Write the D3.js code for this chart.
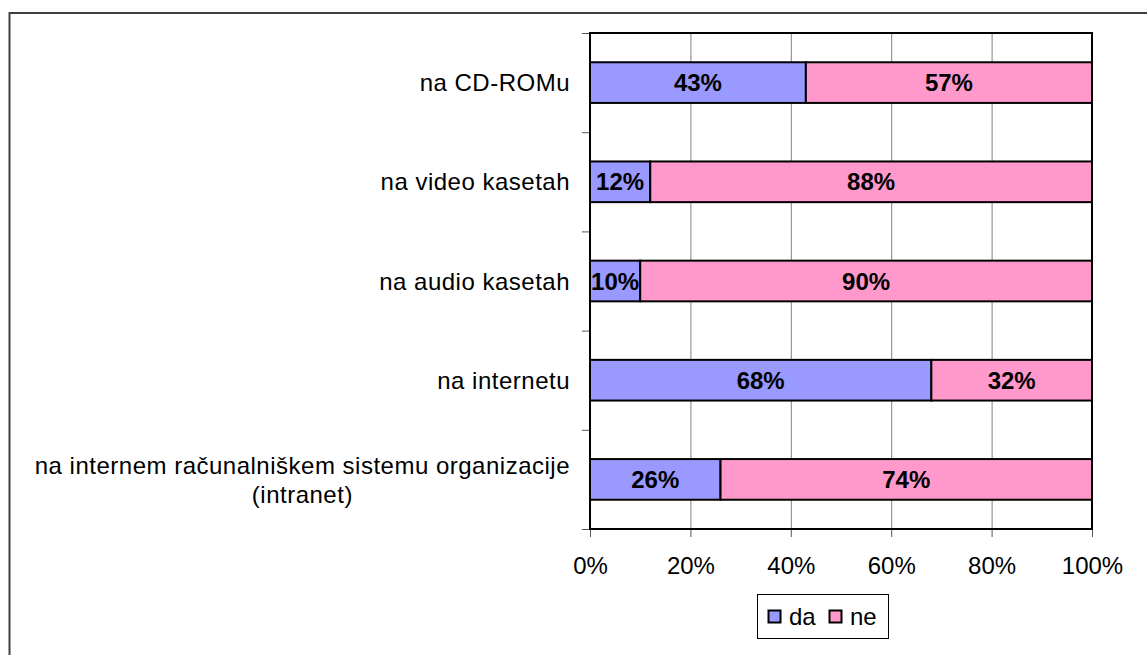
<!DOCTYPE html>
<html>
<head>
<meta charset="utf-8">
<script src="https://cdn.jsdelivr.net/npm/d3@7"></script>
<style>
  html, body { margin: 0; padding: 0; background: #fff; }
  svg { display: block; font-family: "Liberation Sans", Arial, sans-serif; }
</style>
</head>
<body>
<svg id="chart" width="1147" height="655"></svg>
<script>
const categories = [
  ["na CD-ROMu"],
  ["na video kasetah"],
  ["na audio kasetah"],
  ["na internetu"],
  ["na internem računalniškem sistemu organizacije", "(intranet)"]
];
const daValues = [43, 12, 10, 68, 26];
const neValues = [57, 88, 90, 32, 74];
const seriesNames = ["da", "ne"];
const seriesColors = ["#9999FF", "#FF99CC"];
const tickValues = [0, 20, 40, 60, 80, 100];

const svg = d3.select("#chart");
const W = 1147, H = 655;
const plot = { left: 590, right: 1092, top: 33, bottom: 529 };

svg.append("rect").attr("x", 0).attr("y", 0).attr("width", W).attr("height", H).attr("fill", "#fff");
// outer frame (only left/top visible)
svg.append("rect").attr("x", 9.5).attr("y", 13).attr("width", 1200).attr("height", 800)
  .attr("fill", "none").attr("stroke", "#404040").attr("stroke-width", 2);

const x = d3.scaleLinear().domain([0, 100]).range([plot.left, plot.right]);
const keys = categories.map((c, i) => i);
const y = d3.scaleBand().domain(keys).range([plot.top, plot.bottom]).paddingInner(0.59).paddingOuter(0.295);
const yEdge = d3.scaleLinear().domain([0, categories.length]).range([plot.top, plot.bottom]);

// gridlines
const grid = svg.append("g").attr("transform", `translate(0,${plot.bottom})`)
  .call(d3.axisBottom(x).tickValues(tickValues.slice(1, -1)).tickSize(-(plot.bottom - plot.top)).tickFormat(""));
grid.select(".domain").remove();
grid.selectAll("line").attr("stroke", "#808080").attr("stroke-width", 1);

// x axis ticks + labels
const xa = svg.append("g").attr("transform", `translate(0,${plot.bottom})`)
  .call(d3.axisBottom(x).tickValues(tickValues).tickSize(8).tickPadding(20).tickFormat(d => d + "%"));
xa.select(".domain").remove();
xa.selectAll("line").attr("stroke", "#555").attr("stroke-width", 1);
xa.selectAll("text").attr("font-size", 24).attr("fill", "#000").attr("font-family", "Liberation Sans, Arial, sans-serif");

// y axis ticks at band edges
const ya = svg.append("g").attr("transform", `translate(${plot.left},0)`)
  .call(d3.axisLeft(yEdge).tickValues(d3.range(categories.length + 1)).tickSize(8).tickFormat(""));
ya.select(".domain").remove();
ya.selectAll("line").attr("stroke", "#555").attr("stroke-width", 1);

// stacked data
const stacked = keys.map(i => {
  const vals = [daValues[i], neValues[i]];
  let acc = 0;
  return vals.map((v, s) => { const r = { i, s, x0: acc, x1: acc + v, v }; acc += v; return r; });
}).flat();

svg.append("g").selectAll("rect").data(stacked).join("rect")
  .attr("x", d => x(d.x0)).attr("width", d => x(d.x1) - x(d.x0))
  .attr("y", d => y(d.i)).attr("height", y.bandwidth())
  .attr("fill", d => seriesColors[d.s]).attr("stroke", "#000").attr("stroke-width", 2);

svg.append("g").selectAll("text").data(stacked).join("text")
  .attr("x", d => (x(d.x0) + x(d.x1)) / 2)
  .attr("y", d => y(d.i) + y.bandwidth() / 2)
  .attr("dy", "0.36em")
  .attr("text-anchor", "middle").attr("font-size", 24).attr("font-weight", "bold")
  .text(d => d.v + "%");

// plot border
svg.append("rect").attr("x", plot.left).attr("y", plot.top)
  .attr("width", plot.right - plot.left).attr("height", plot.bottom - plot.top)
  .attr("fill", "none").attr("stroke", "#000").attr("stroke-width", 2);

// category labels
const labelRight = 570;
const lineH = 29;
categories.forEach((lines, i) => {
  const cy = y(i) + y.bandwidth() / 2;
  const g = svg.append("g");
  const texts = lines.map((t, k) => g.append("text")
    .attr("font-size", 24).attr("fill", "#000").attr("letter-spacing", "0.5px")
    .attr("y", cy + (k - (lines.length - 1) / 2) * lineH)
    .attr("dy", "0.36em").text(t));
  const widths = texts.map(t => t.node().getComputedTextLength());
  const maxW = d3.max(widths);
  const cx = labelRight - maxW / 2;
  texts.forEach(t => t.attr("x", cx).attr("text-anchor", "middle"));
});

// legend
const lg = svg.append("g");
lg.append("rect").attr("x", 757.5).attr("y", 594.5).attr("width", 131).attr("height", 44)
  .attr("fill", "#fff").attr("stroke", "#000").attr("stroke-width", 1);
const legendItems = [
  { sx: 768, tx: 789 },
  { sx: 829, tx: 850 }
];
seriesNames.forEach((n, s) => {
  lg.append("rect").attr("x", legendItems[s].sx + 0.5).attr("y", 610.5).attr("width", 12).attr("height", 12)
    .attr("fill", seriesColors[s]).attr("stroke", "#000").attr("stroke-width", 2);
  lg.append("text").attr("x", legendItems[s].tx).attr("y", 616.5).attr("dy", "0.36em")
    .attr("font-size", 24).text(n);
});
</script>
</body>
</html>
